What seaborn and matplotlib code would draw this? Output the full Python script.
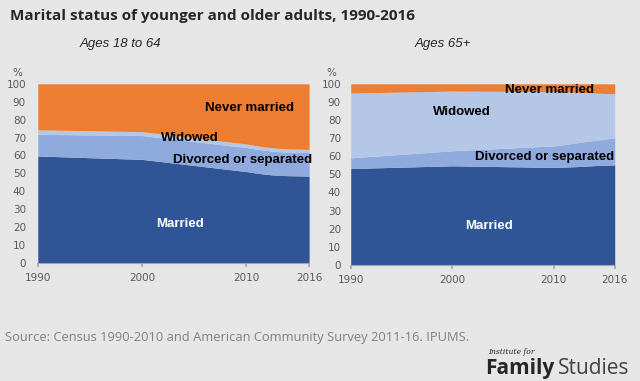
import numpy as np
import pandas as pd
import matplotlib
matplotlib.use("Agg")
import matplotlib.pyplot as plt
import seaborn as sns

sns.set_theme(style="white")
plt.rcParams['font.family'] = ['Liberation Sans', 'DejaVu Sans']

# data (percent of adults)
years = [1990, 2000, 2010, 2011, 2012, 2013, 2014, 2015, 2016]
categories = ["Married", "Divorced or separated", "Widowed", "Never married"]

young_married = [59.7, 57.8, 51.0, 50.1, 49.4, 48.9, 48.7, 48.6, 48.5]
young_divorced = [12.1, 13.3, 13.4, 13.4, 13.3, 13.2, 13.2, 13.1, 13.1]
young_widowed = [2.5, 2.2, 2.0, 1.9, 1.9, 1.9, 1.8, 1.8, 1.8]
young_never = [25.7, 26.7, 33.6, 34.6, 35.4, 36.0, 36.3, 36.5, 36.6]

old_married = [53.2, 54.7, 53.8, 54.0, 54.2, 54.5, 54.8, 55.0, 55.2]
old_divorced = [5.9, 8.3, 11.9, 12.4, 13.0, 13.5, 13.9, 14.4, 15.0]
old_widowed = [35.8, 33.0, 30.0, 29.2, 28.2, 27.2, 26.2, 25.3, 24.3]
old_never = [5.1, 4.0, 4.3, 4.4, 4.6, 4.8, 5.1, 5.3, 5.5]

xticks = [1990, 2000, 2010, 2016]
yticks = list(range(0, 101, 10))

colors = ["#2F5597", "#8FAADC", "#B4C7E7", "#ED7D31"]
bg = "#E6E6E6"
tick_col = "#595959"

fig = plt.figure(figsize=(6.4, 3.81), dpi=100, facecolor=bg)

ax1 = fig.add_axes([0.059, 0.310, 0.424, 0.470])
ax2 = fig.add_axes([0.548, 0.305, 0.4125, 0.475])

panels = [
    (ax1, [young_married, young_divorced, young_widowed, young_never], 8.5,
     {"Never married": (2010.3, 86.4), "Widowed": (2004.6, 69.8),
      "Divorced or separated": (2009.6, 57.6), "Married": (2003.6, 21.6)}),
    (ax2, [old_married, old_divorced, old_widowed, old_never], 7,
     {"Never married": (2009.6, 96.7), "Widowed": (2000.9, 84.7),
      "Divorced or separated": (2009.1, 59.3), "Married": (2003.6, 21.7)}),
]

lab_font = ['Liberation Sans Narrow', 'Liberation Sans', 'DejaVu Sans']

for ax, series, ypad, labpos in panels:
    ax.set_facecolor(bg)
    ax.stackplot(years, *series, colors=colors, linewidth=0)
    ax.set_xlim(1990, 2016)
    ax.set_ylim(0, 100)
    ax.set_xticks(xticks)
    ax.set_yticks(yticks)
    ax.tick_params(axis="x", colors=tick_col, labelsize=7.5, length=3,
                   direction="out", bottom=True, pad=4, color="#A6A6A6")
    ax.tick_params(axis="y", colors=tick_col, labelsize=7.5, length=0, pad=ypad)
    for lab in ax.get_xticklabels() + ax.get_yticklabels():
        lab.set_family('DejaVu Sans')
    for s in ["top", "right", "left"]:
        ax.spines[s].set_visible(False)
    ax.spines["bottom"].set_color("#A6A6A6")
    ax.spines["bottom"].set_linewidth(0.8)
    for name, (lx, ly) in labpos.items():
        ax.text(lx, ly, name, ha="center", va="center", fontsize=9.5,
                fontweight="bold", family=lab_font,
                color="white" if name == "Married" else "black")
    ax.text(-0.075, 1.06, "%", transform=ax.transAxes, fontsize=7.5,
            color=tick_col, ha="center", va="center", family='DejaVu Sans')

fig.text(0.016, 0.958, "Marital status of younger and older adults, 1990-2016",
         fontsize=11, fontweight="bold", color="#262626",
         family=['Open Sans', 'DejaVu Sans'], va="center")
fig.text(0.188, 0.885, "Ages 18 to 64", fontsize=9.5, style="italic",
         color="#262626", ha="center", va="center")
fig.text(0.692, 0.885, "Ages 65+", fontsize=9.5, style="italic",
         color="#262626", ha="center", va="center")

fig.text(0.008, 0.113,
         "Source: Census 1990-2010 and American Community Survey 2011-16. IPUMS.",
         fontsize=9.3, color="#808080", va="center",
         family=['Open Sans', 'DejaVu Sans'])
fig.text(0.762, 0.075, "Institute for", fontsize=5.5, style="italic",
         color="#262626", va="center", family=['DejaVu Serif'])
fig.text(0.758, 0.032, "Family", fontsize=15, fontweight="bold",
         color="#262626", va="center", family=['Open Sans', 'DejaVu Sans'])
fig.text(0.872, 0.032, "Studies", fontsize=15, color="#404040",
         va="center", family=['Open Sans', 'DejaVu Sans'])

fig.savefig("out.png", dpi=100, facecolor=bg)
